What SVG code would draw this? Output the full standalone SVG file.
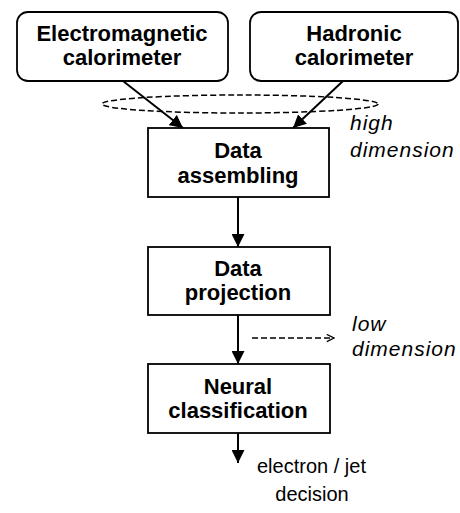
<svg xmlns="http://www.w3.org/2000/svg" width="460" height="513" viewBox="0 0 460 513">
  <style>
    .box { fill: #fff; stroke: #000; stroke-width: 1.8; }
    .lbl { font-family: "Liberation Sans", Arial, sans-serif; font-weight: bold; font-size: 22px; text-anchor: middle; fill: #000; }
    .note { font-family: "Liberation Sans", Arial, sans-serif; font-style: italic; font-size: 21px; letter-spacing: 1px; fill: #000; }
    .out { font-family: "Liberation Sans", Arial, sans-serif; font-size: 20px; fill: #000; }
    .edge { stroke: #000; stroke-width: 2; fill: none; }
    .dash { stroke: #000; stroke-width: 1.5; fill: none; stroke-dasharray: 6 3; }
  </style>
  <defs>
    <marker id="head" viewBox="0 0 10 10" refX="10" refY="5" markerWidth="6.5" markerHeight="6.5" orient="auto" markerUnits="strokeWidth">
      <path d="M0,0 L10,5 L0,10 z" fill="#000"/>
    </marker>
    <marker id="open" viewBox="0 0 10 10" refX="9" refY="5" markerWidth="9" markerHeight="9" orient="auto" markerUnits="userSpaceOnUse">
      <path d="M1,1 L9,5 L1,9" fill="none" stroke="#000" stroke-width="1.4"/>
    </marker>
  </defs>

  <g id="em-calorimeter">
    <rect class="box" x="17" y="12" width="211" height="69" rx="11"/>
    <text class="lbl" x="122" y="41">Electromagnetic</text>
    <text class="lbl" x="122" y="65">calorimeter</text>
  </g>
  <g id="had-calorimeter">
    <rect class="box" x="250" y="12" width="208" height="69" rx="11"/>
    <text class="lbl" x="354" y="41">Hadronic</text>
    <text class="lbl" x="354" y="65">calorimeter</text>
  </g>
  <g id="data-assembling">
    <rect class="box" x="148" y="128" width="181" height="69"/>
    <text class="lbl" x="238" y="158">Data</text>
    <text class="lbl" x="238" y="183">assembling</text>
  </g>
  <g id="data-projection">
    <rect class="box" x="148" y="247" width="182" height="68"/>
    <text class="lbl" x="238" y="276">Data</text>
    <text class="lbl" x="238" y="300">projection</text>
  </g>
  <g id="neural-classification">
    <rect class="box" x="148" y="364" width="182" height="69"/>
    <text class="lbl" x="238" y="394">Neural</text>
    <text class="lbl" x="238" y="418">classification</text>
  </g>

  <g id="connectors">
    <ellipse class="dash" cx="240" cy="104" rx="138" ry="9"/>
    <line class="edge" x1="123" y1="81" x2="183" y2="128" marker-end="url(#head)"/>
    <line class="edge" x1="343" y1="81" x2="293" y2="128" marker-end="url(#head)"/>
    <line class="edge" x1="238" y1="197" x2="238" y2="247" marker-end="url(#head)"/>
    <line class="edge" x1="238" y1="315" x2="238" y2="364" marker-end="url(#head)"/>
    <line class="edge" x1="238" y1="433" x2="238" y2="463" marker-end="url(#head)"/>
    <line class="dash" x1="252" y1="338" x2="334" y2="338" marker-end="url(#open)"/>
  </g>

  <g id="annotations">
    <text class="note" x="350" y="130">high</text>
    <text class="note" x="350" y="157">dimension</text>
    <text class="note" x="352" y="331">low</text>
    <text class="note" x="352" y="356">dimension</text>
    <text class="out" x="257" y="473">electron / jet</text>
    <text class="out" x="312" y="501" text-anchor="middle">decision</text>
  </g>
</svg>
